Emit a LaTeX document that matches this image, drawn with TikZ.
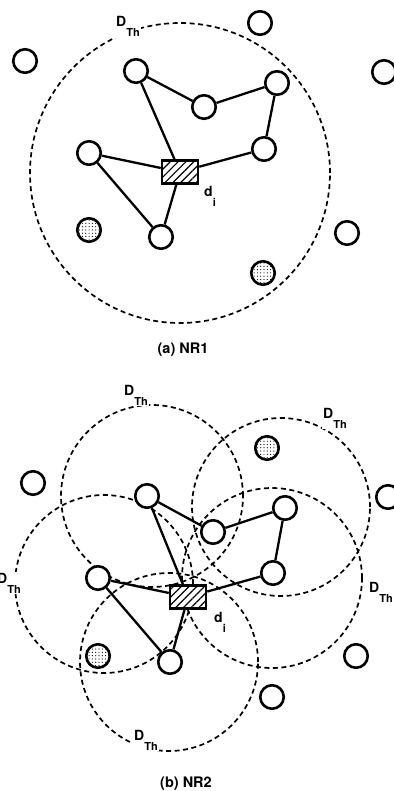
\documentclass[tikz,border=0pt]{standalone}
\usepackage{fontspec}
\setmainfont{TeX Gyre Heros}
\usetikzlibrary{patterns,patterns.meta,backgrounds}
\newcommand{\Dth}{D\raisebox{-10pt}{\fontsize{11}{11}\selectfont Th}}
\newcommand{\dsub}{d\raisebox{-10pt}{\fontsize{11}{11}\selectfont i}}
\begin{document}
\begin{tikzpicture}[x=1pt,y=-1pt,
  nd/.style={circle,draw,line width=2.6pt,minimum size=23.5pt,inner sep=0pt,fill=white},
  dnd/.style={nd,postaction={pattern={Dots[radius=0.6pt,distance=3.3pt]}}},
  dbox/.style={rectangle,draw,line width=2.5pt,minimum width=36pt,minimum height=23pt,inner sep=0pt,fill=white,
              postaction={pattern={Lines[angle=45,distance=5.5pt,line width=1.2pt]}}},
  link/.style={line width=2.3pt},
  dthcirc/.style={line width=1.7pt,dash pattern=on 5pt off 3.5pt},
  lbl/.style={font=\fontsize{14}{14}\selectfont\bfseries,inner sep=1pt,fill=white,anchor=base west},
  capt/.style={font=\fontsize{14.5}{14.5}\selectfont\bfseries,inner sep=0pt,anchor=base}]
\useasboundingbox (0,0) rectangle (393,791);

% ---------------- (a) NR1 ----------------
\draw[dthcirc] (180,173) circle (150pt);
\node[lbl] (la) at (115,27) {\Dth};

\node[nd] (a1) at (136,71) {};
\node[nd] (a2) at (204,107) {};
\node[nd] (a3) at (277,83) {};
\node[nd] (a4) at (264,149) {};
\node[nd] (a5) at (89,153) {};
\node[nd] (a6) at (161,237) {};
\node[dbox] (da) at (180,172) {};
\node[nd] (ao1) at (25,61) {};
\node[nd] (ao2) at (260,23) {};
\node[nd] (ao3) at (384,72) {};
\node[nd] (ao4) at (347,233) {};
\node[dnd] (ap1) at (89,230) {};
\node[dnd] (ap2) at (263,273) {};
\node[lbl,fill=none] (dia) at (203,197) {\dsub};

\draw[link] (a1) -- (a2);
\draw[link] (a2) -- (a3);
\draw[link] (a3) -- (a4);
\draw[link] (a4) -- (da);
\draw[link] (a1) -- (da);
\draw[link] (a5) -- (da);
\draw[link] (a5) -- (a6);
\draw[link] (a6) -- (da);

\node[capt] (capa) at (183,353) {(a) NR1};

% ---------------- (b) NR2 ----------------
\draw[dthcirc] (152,496) circle (91pt);
\draw[dthcirc] (281,507) circle (89pt);
\draw[dthcirc] (104,584) circle (89pt);
\draw[dthcirc] (272,578) circle (90pt);
\draw[dthcirc] (169,662) circle (89pt);
\node[lbl] (lb1) at (123,395) {\Dth};
\node[lbl] (lb2) at (322,418) {\Dth};
\node[lbl] (lb3) at (-4,583) {\Dth};
\node[lbl] (lb4) at (368,592) {\Dth};
\node[lbl] (lb5) at (133,740) {\Dth};

\node[nd] (b1) at (147,496) {};
\node[nd] (b2) at (213,532) {};
\node[nd] (b3) at (285,508) {};
\node[nd] (b4) at (273,573) {};
\node[nd] (b5) at (98,578) {};
\node[nd] (b6) at (170,662) {};
\node[dbox] (db) at (188,597) {};
\node[nd] (bo1) at (33,483) {};
\node[nd] (bo2) at (388,497) {};
\node[nd] (bo3) at (356,656) {};
\node[nd] (bo4) at (272,697) {};
\node[dnd] (bp1) at (267,448) {};
\node[dnd] (bp2) at (98,656) {};
\node[lbl,fill=none] (dib) at (213,622) {\dsub};

\draw[link] (b1) -- (b2);
\draw[link] (b2) -- (b3);
\draw[link] (b3) -- (b4);
\draw[link] (b4) -- (db);
\draw[link] (b1) -- (db);
\draw[link] (b5) -- (db);
\draw[link] (b5) -- (b6);
\draw[link] (b6) -- (db);

\node[capt] (capb) at (186,787) {(b) NR2};
\end{tikzpicture}
\end{document}
